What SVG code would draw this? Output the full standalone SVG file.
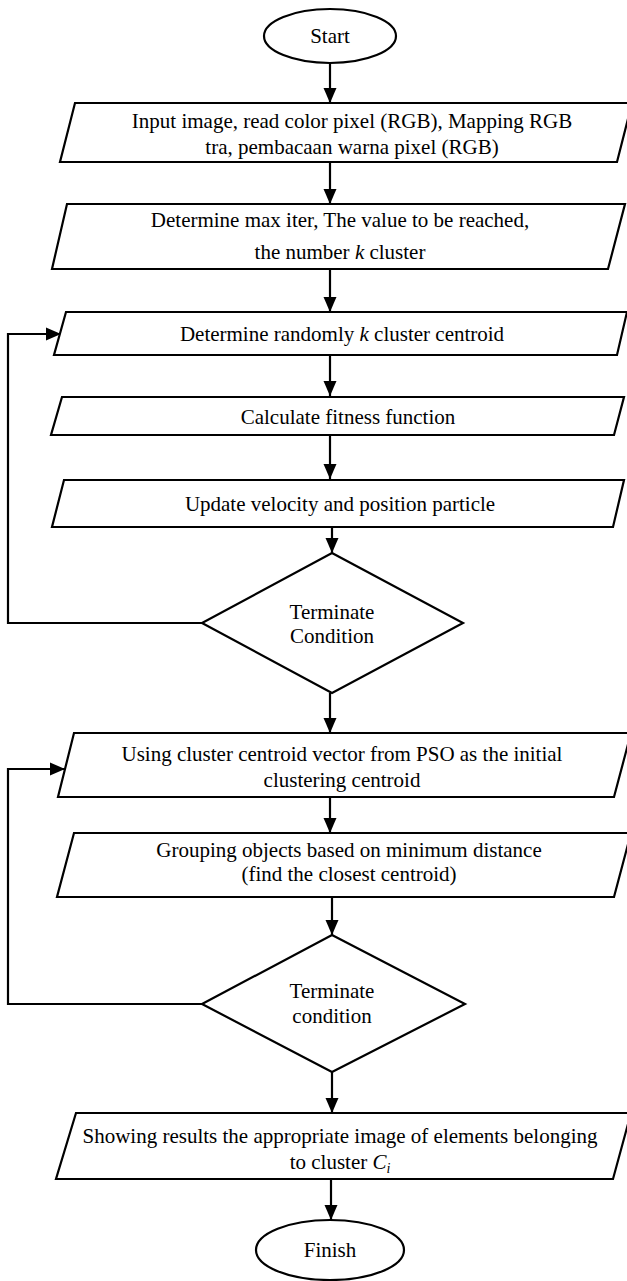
<svg xmlns="http://www.w3.org/2000/svg" width="627" height="1281" viewBox="0 0 627 1281">
<style>
.s{fill:#fff;stroke:#000;stroke-width:2.2}
.t{font-family:"Liberation Serif","Times New Roman",serif;font-size:21px;fill:#000;text-anchor:middle}
.c{fill:none;stroke:#000;stroke-width:2.2}
</style>
<defs>
<marker id="ah" markerUnits="userSpaceOnUse" markerWidth="16" markerHeight="14" refX="15" refY="7" orient="auto">
<path d="M0,0.5 L15,7 L0,13.5 z" fill="#000"/>
</marker>
</defs>
<rect width="627" height="1281" fill="#fff"/>
<g id="connectors">
<line class="c" x1="330" y1="63" x2="330" y2="103" marker-end="url(#ah)"/>
<line class="c" x1="330" y1="162" x2="330" y2="204" marker-end="url(#ah)"/>
<line class="c" x1="330" y1="269" x2="330" y2="312" marker-end="url(#ah)"/>
<line class="c" x1="330" y1="355" x2="330" y2="396" marker-end="url(#ah)"/>
<line class="c" x1="330" y1="435" x2="330" y2="479" marker-end="url(#ah)"/>
<line class="c" x1="332" y1="526" x2="332" y2="553" marker-end="url(#ah)"/>
<polyline class="c" points="202,623 8,623 8,334 61,334" marker-end="url(#ah)"/>
<line class="c" x1="330" y1="693" x2="330" y2="733" marker-end="url(#ah)"/>
<line class="c" x1="330" y1="795" x2="330" y2="833" marker-end="url(#ah)"/>
<line class="c" x1="332" y1="897" x2="332" y2="935" marker-end="url(#ah)"/>
<polyline class="c" points="202,1004 8,1004 8,769 65,769" marker-end="url(#ah)"/>
<line class="c" x1="332" y1="1072" x2="332" y2="1113" marker-end="url(#ah)"/>
<line class="c" x1="331" y1="1179" x2="331" y2="1220" marker-end="url(#ah)"/>
</g>
<g id="start">
<ellipse class="s" cx="330" cy="36" rx="66" ry="27"/>
<text class="t" x="330" y="43">Start</text>
</g>
<g id="input">
<polygon class="s" points="75,103 632,103 617,162 60,162"/>
<text class="t" x="352" y="128">Input image, read color pixel (RGB), Mapping RGB</text>
<text class="t" x="352" y="154">tra, pembacaan warna pixel (RGB)</text>
</g>
<g id="determine-max">
<polygon class="s" points="67,204 625,204 608,269 52,269"/>
<text class="t" x="340" y="227">Determine max iter, The value to be reached,</text>
<text class="t" x="340" y="259">the number <tspan font-style="italic">k</tspan> cluster</text>
</g>
<g id="random-centroid">
<polygon class="s" points="66,312 627,312 617,355 54,355"/>
<text class="t" x="342" y="341">Determine randomly <tspan font-style="italic">k</tspan> cluster centroid</text>
</g>
<g id="fitness">
<polygon class="s" points="62,397 624,397 614,435 51,435"/>
<text class="t" x="348" y="424">Calculate fitness function</text>
</g>
<g id="update">
<polygon class="s" points="64,480 624,480 613,527 52,527"/>
<text class="t" x="340" y="511">Update velocity and position particle</text>
</g>
<g id="terminate1">
<polygon class="s" points="332,553 463,623 332,693 202,623"/>
<text class="t" x="332" y="619">Terminate</text>
<text class="t" x="332" y="643">Condition</text>
</g>
<g id="using-centroid">
<polygon class="s" points="74,733 631,733 614,797 58,797"/>
<text class="t" x="342" y="761">Using cluster centroid vector from PSO as the initial</text>
<text class="t" x="342" y="787">clustering centroid</text>
</g>
<g id="grouping">
<polygon class="s" points="74,833 631,833 614,897 57,897"/>
<text class="t" x="349" y="857">Grouping objects based on minimum distance</text>
<text class="t" x="349" y="881">(find the closest centroid)</text>
</g>
<g id="terminate2">
<polygon class="s" points="332,935 465,1004 332,1072 202,1004"/>
<text class="t" x="332" y="998">Terminate</text>
<text class="t" x="332" y="1023">condition</text>
</g>
<g id="showing">
<polygon class="s" points="76,1113 631,1113 613,1179 56,1179"/>
<text class="t" x="340" y="1143">Showing results the appropriate image of elements belonging</text>
<text class="t" x="340" y="1169">to cluster <tspan font-style="italic">C</tspan><tspan font-style="italic" font-size="14" dy="4">i</tspan></text>
</g>
<g id="finish">
<ellipse class="s" cx="330" cy="1250" rx="74" ry="30"/>
<text class="t" x="330" y="1257">Finish</text>
</g>
</svg>
